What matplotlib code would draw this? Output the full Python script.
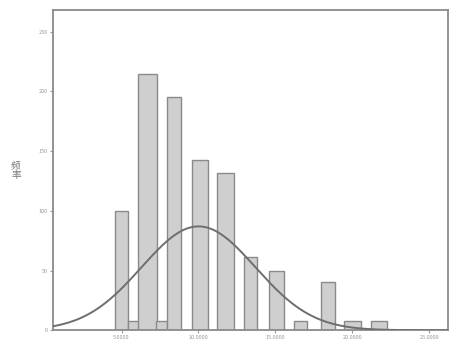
#!/usr/bin/env python3
"""Histogram of frequencies with a fitted normal curve (SPSS style)."""

import numpy as np
import matplotlib.pyplot as plt

# bar positions (x value) and frequencies
bin_x = [5.0, 5.8, 6.7, 7.6, 8.4, 10.1, 11.75, 13.4, 15.05, 16.6, 18.4, 20.0, 21.7]
freqs = [100, 8, 215, 8, 195, 143, 132, 61, 50, 8, 40, 8, 8]

# fitted normal curve
curve_mean = 10.0
curve_sd = 3.7
curve_peak = 87

x_ticks = [5, 10, 15, 20, 25]
x_tick_labels = ["5.0000", "10.0000", "15.0000", "20.0000", "25.0000"]
y_ticks = [0, 50, 100, 150, 200, 250]
y_label = "频\n率"


def main() -> int:
    plt.rcParams["font.family"] = ["Noto Sans CJK SC", "DejaVu Sans"]

    fig = plt.figure(figsize=(4.57, 3.44), dpi=100, facecolor="white")
    ax = fig.add_axes([0.116, 0.04, 0.864, 0.93])

    widths = [0.9, 0.75, 1.2, 0.75, 0.9, 1.0, 1.15, 0.85, 1.0, 0.85, 0.9, 1.15, 1.05]
    ax.bar(bin_x, freqs, width=widths, color="#cfcfcf", edgecolor="#8a8a8a",
           linewidth=1.0, zorder=2)

    xmin, xmax = 0.55, 26.2
    xs = np.linspace(xmin, xmax, 300)
    ys = curve_peak * np.exp(-0.5 * ((xs - curve_mean) / curve_sd) ** 2)
    ax.plot(xs, ys, color="#6e6e6e", linewidth=1.4, zorder=3)

    ax.set_xlim(xmin, xmax)
    ax.set_ylim(0, 268)
    ax.set_xticks(x_ticks)
    ax.set_xticklabels(x_tick_labels)
    ax.set_yticks(y_ticks)
    ax.tick_params(axis="both", labelsize=4, colors="#9a9a9a", length=2.5,
                   width=0.8, pad=1)

    for spine in ax.spines.values():
        spine.set_color("#8a8a8a")
        spine.set_linewidth(1.3)

    fig.text(0.035, 0.505, y_label, fontsize=7, color="#777777",
             ha="center", va="center", linespacing=0.9)

    fig.savefig("out.png", dpi=100)
    plt.close(fig)
    return 0


if __name__ == "__main__":
    raise SystemExit(main())
